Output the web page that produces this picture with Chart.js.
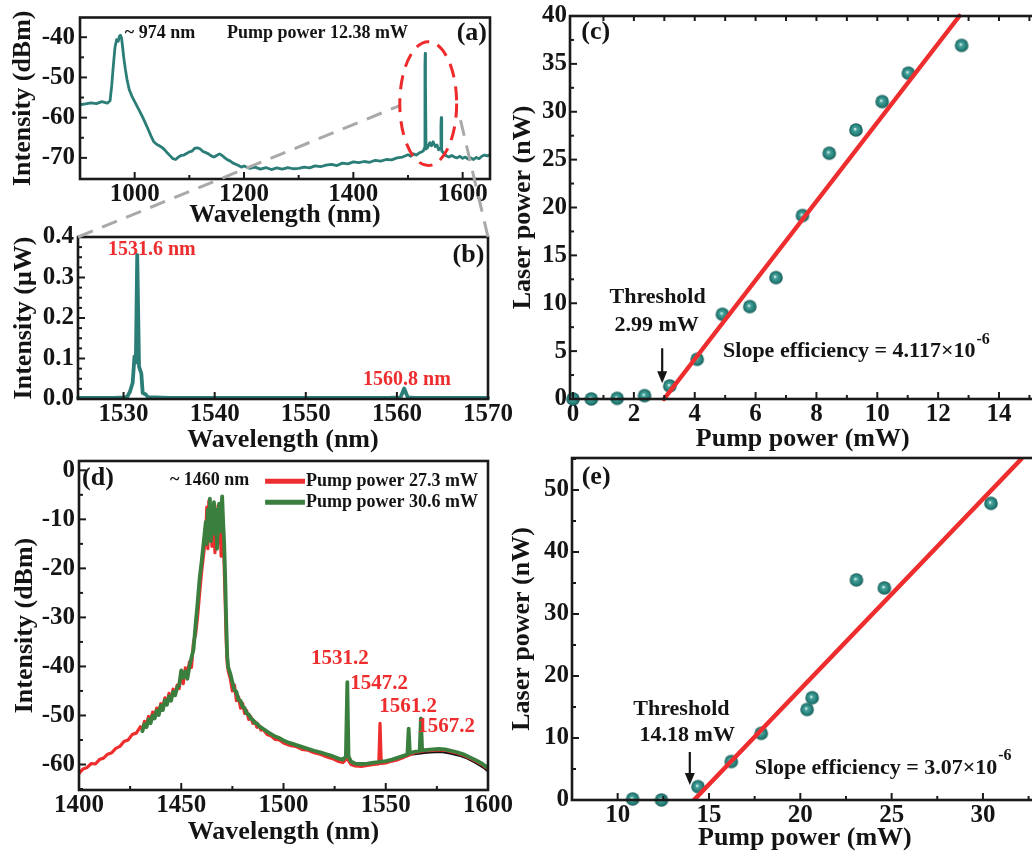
<!DOCTYPE html>
<html><head><meta charset="utf-8">
<script src="https://cdn.jsdelivr.net/npm/chart.js@4.4.1/dist/chart.umd.min.js"></script>
<style>
html,body{margin:0;padding:0;background:#fff;overflow:hidden;width:1032px;height:857px;}
canvas{position:absolute;left:0;top:0;}
</style></head><body>
<canvas id="ca" width="1100" height="857"></canvas>
<canvas id="cb" width="1100" height="857"></canvas>
<canvas id="cc" width="1100" height="857"></canvas>
<canvas id="cd" width="1100" height="857"></canvas>
<canvas id="ce" width="1100" height="857"></canvas>
<canvas id="ov" width="1100" height="857"></canvas>
<script>
// ---------- DATA ----------
// (a) spectrum, pump 12.38 mW
const aWave = [900,910,920,930,940,950,955,958,961,964,967,970,972,974,976,978,980,983,986,990,995,1000,1005,1010,1015,1020,1025,1030,1035,1040,1045,1050,1055,1060,1065,1070,1075,1080,1085,1090,1095,1100,1105,1110,1115,1120,1125,1130,1135,1140,1145,1150,1155,1160,1165,1170,1175,1180,1185,1190,1195,1200,1210,1220,1230,1240,1250,1260,1270,1280,1290,1300,1310,1320,1330,1340,1350,1360,1370,1380,1390,1400,1410,1420,1430,1440,1450,1460,1470,1480,1490,1500,1505,1510,1515,1520,1525,1528,1530,1531,1531.5,1532,1533,1536,1540,1543,1546,1550,1553,1556,1559,1560.3,1560.8,1561.3,1562,1565,1570,1575,1580,1585,1590,1595,1600,1605,1610,1615,1620,1625,1630,1635,1640,1645,1650];
const aIntensity = [-56.8,-56.6,-56.3,-56.5,-56.0,-56.4,-55.8,-52,-47,-42.5,-40.6,-41,-39.8,-39.5,-40.2,-42.5,-45,-48,-50.5,-53,-54.7,-56,-57.3,-58.6,-60,-61.5,-63,-64.6,-66,-66.6,-67,-67.4,-68,-68.8,-69.5,-70.2,-70.4,-69.8,-69.4,-69.3,-68.9,-68.5,-68.3,-67.6,-67.5,-67.8,-68.4,-68.7,-69.0,-69.5,-69.8,-69.4,-69.0,-69.4,-70.0,-70.5,-70.8,-71.3,-71.6,-71.9,-72.3,-72.0,-72.6,-72.3,-72.8,-72.4,-72.9,-72.5,-72.8,-72.4,-72.7,-72.6,-72.3,-72.5,-72.0,-72.2,-71.8,-71.6,-71.9,-71.3,-71.5,-71.0,-71.2,-70.9,-71.1,-70.6,-70.8,-70.4,-70.5,-70.0,-69.8,-69.2,-69.6,-69.0,-69.3,-68.8,-68.5,-68.3,-67.5,-47,-44,-52,-67.8,-67.4,-66.2,-67.0,-66.0,-67.2,-66.8,-68.0,-67.5,-62,-60,-63,-68.2,-68.8,-69.5,-69.8,-69.4,-69.8,-70.0,-69.6,-70.1,-69.8,-70.3,-70.0,-70.4,-69.9,-70.2,-69.6,-69.3,-69.5,-69.2];
const aXTicks = [1000,1200,1400,1600];
const aYTicks = [-70,-60,-50,-40];

// (b) zoomed spectrum
const bWave = [1525,1527,1529,1530,1530.4,1530.7,1531.0,1531.2,1531.35,1531.5,1531.7,1531.95,1532.1,1532.4,1532.7,1533.5,1535,1540,1545,1550,1555,1559,1560.4,1560.8,1561.2,1562,1565,1570];
const bPower = [0.003,0.003,0.003,0.004,0.005,0.018,0.04,0.105,0.09,0.356,0.08,0.063,0.015,0.012,0.004,0.004,0.003,0.003,0.003,0.003,0.003,0.003,0.004,0.026,0.004,0.003,0.003,0.003];
const bXTicks = [1530,1540,1550,1560,1570];
const bYTicks = [0,0.1,0.2,0.3,0.4];

// (c) laser power vs pump power
const cPump  = [0,0.6,1.45,2.35,3.18,4.08,4.91,5.81,6.67,7.54,8.42,9.3,10.16,11.02,12.77];
const cLaser = [0,0,0.07,0.35,1.36,4.15,8.85,9.65,12.68,19.16,25.67,28.1,31.06,34.03,36.93];
const cFitPump = [2.99,12.7];
const cFitLaser = [0,40];
const cXTicks = [0,2,4,6,8,10,12,14];
const cYTicks = [0,5,10,15,20,25,30,35,40];

// (d) spectra at two pump powers
const dWave = [1400,1402,1404,1406,1408,1410,1412,1414,1416,1418,1420,1422,1424,1426,1428,1430,
1431,1432,1433,1434,1435,1436,1437,1438,1439,1440,1441,1442,1443,1444,1445,1446,1447,1448,1449,1450,1451,1452,1453,1454,1455,1456,1457,1458,1459,1460,1461,1462,
1462.5,1463,1463.5,1464,1464.5,1465,1465.5,1466,1466.5,1467,1467.5,1468,1468.5,1469,1469.5,1470,1470.5,1471,1471.5,1472,1472.5,
1473,1474,1475,1476,1477,1478,1479,1480,1481,1482,1483,1484,1485,1486,1487,1488,1489,1490,
1492,1494,1496,1498,1500,
1503,1506,1509,1512,1515,1518,1521,1524,1527,1529,
1530.5,1531.2,1531.8,1533,1535,1538,1541,1544,1546.6,1547.2,1547.8,1550,1553,1556,1559,1560.6,1561.2,1561.8,1564,1566.6,1567.2,1567.8,
1570,1573,1576,1579,1582,1585,1588,1591,1594,1597,1600];
const dRed = [-61.8,-60.9,-60.6,-59.8,-59.9,-59.0,-58.7,-57.9,-57.6,-56.7,-56.3,-55.3,-55.0,-53.9,-53.6,-52.3,
-52.9,-51.2,-51.8,-50.2,-51.0,-49.3,-50.2,-48.5,-49.4,-47.6,-48.2,-46.4,-47.5,-45.5,-46.8,-44.6,-45.9,-43.8,-44.5,-41.2,-43.5,-40.3,-41.8,-39.1,-40.2,-35.0,-33.5,-29.8,-25.0,-20.5,-17.0,-13.0,
-7.5,-16.0,-6.2,-12.5,-9.0,-15.5,-7.8,-11.8,-16.8,-9.5,-13.5,-7.2,-14.8,-10.5,-17.5,-9.8,-12.2,-19.5,-27.0,-35.0,-39.5,
-41.0,-42.5,-45.0,-43.8,-47.0,-46.2,-48.5,-47.5,-49.6,-49.0,-50.8,-50.2,-51.6,-51.2,-52.4,-52.0,-53.0,-52.8,
-53.9,-54.2,-54.9,-55.0,-55.6,
-56.1,-56.3,-56.9,-57.1,-57.6,-57.9,-58.4,-58.8,-59.4,-59.6,
-59.0,-57.5,-59.2,-60.0,-60.3,-60.4,-60.2,-60.0,-59.9,-51.6,-59.8,-59.7,-59.3,-59.0,-58.5,-58.2,-58.1,-58.0,-57.6,-57.4,-57.3,-57.3,
-57.2,-57.1,-57.0,-57.1,-57.4,-57.7,-58.1,-58.7,-59.3,-60.0,-60.9];
const dGreen = [null,null,null,null,null,null,null,null,null,null,null,null,null,null,null,null,
-53.2,-51.8,-52.4,-50.8,-51.6,-50.0,-50.6,-49.0,-49.9,-48.0,-48.9,-46.9,-47.8,-46.1,-47.0,-45.2,-45.9,-44.3,-43.8,-40.8,-42.3,-41.0,-42.5,-40.0,-38.2,-36.5,-31.5,-27.0,-22.0,-18.5,-14.5,-10.5,
-15.0,-8.0,-13.8,-5.8,-14.5,-8.5,-11.0,-6.5,-13.0,-8.0,-16.0,-10.0,-6.8,-12.5,-8.8,-5.3,-10.5,-15.0,-22.0,-31.0,-38.0,
-40.2,-41.5,-43.2,-44.8,-45.2,-46.8,-47.0,-48.2,-48.5,-49.6,-49.8,-50.6,-50.9,-51.5,-51.6,-52.2,-52.4,-52.7,
-53.3,-53.8,-54.3,-54.6,-55.1,
-55.6,-56.0,-56.4,-56.8,-57.2,-57.5,-57.9,-58.3,-58.8,-59.0,
-58.4,-43.2,-58.3,-59.4,-59.8,-59.9,-59.8,-59.6,-59.5,-59.4,-59.4,-59.3,-59.0,-58.6,-58.2,-57.9,-52.7,-57.7,-57.4,-57.2,-50.6,-57.1,
-57.0,-56.9,-56.8,-56.9,-57.2,-57.5,-57.9,-58.5,-59.1,-59.8,-60.7];
const dBlackWave = [1562,1566,1570,1574,1578,1582,1586,1590,1594,1598,1600];
const dBlack = [-57.9,-57.7,-57.5,-57.4,-57.4,-57.7,-58.1,-58.7,-59.6,-60.6,-61.3];
const dXTicks = [1400,1450,1500,1550,1600];
const dYTicks = [-60,-50,-40,-30,-20,-10,0];

// (e) laser power vs pump power
const ePump  = [10.82,12.4,14.4,16.22,17.86,20.37,20.65,23.07,24.6,30.44];
const eLaser = [0.16,0,2.15,6.2,10.75,14.6,16.5,35.5,34.2,47.85];
const eFitPump = [14.18,32.1];
const eFitLaser = [0,55];
const eXTicks = [10,15,20,25,30];
const eYTicks = [0,10,20,30,40,50];

// ---------- STYLE / HELPERS ----------
const FONT = "'Liberation Serif','Times New Roman',serif";
const TEAL = '#2b7d78', RED = '#ee2e2e', GREEN = '#3b7f3f', TXT = '#141414';
const pts = (xs, ys) => xs.map((x, i) => ({x, y: ys[i]}));

function ball(r) {
  const s = Math.ceil(2 * r + 2), c = document.createElement('canvas');
  c.width = c.height = s;
  const g = c.getContext('2d');
  const grd = g.createRadialGradient(s/2 - 1, s/2 - 1, 0.4, s/2, s/2, r);
  grd.addColorStop(0, '#e6f5f3'); grd.addColorStop(0.22, '#46a39b');
  grd.addColorStop(0.7, '#25807a'); grd.addColorStop(1, '#1a5c58');
  g.fillStyle = grd; g.beginPath(); g.arc(s/2, s/2, r, 0, Math.PI * 2); g.fill();
  return c;
}
const BALL = ball(6.8);

function axis(o) {
  return {
    type: 'linear', min: o.min, max: o.max,
    afterBuildTicks: s => { s.ticks = o.ticks.map(v => ({value: v})); },
    afterFit: s => { if (s.isHorizontal()) s.height = o.size; else s.width = o.size; },
    grid: {display: false, drawTicks: false},
    border: {display: false},
    ticks: {font: {family: FONT, size: 25, weight: 'bold', lineHeight: 1}, color: TXT, padding: o.pad,
            autoSkip: false, maxRotation: 0, minRotation: 0, callback: o.fmt || (v => String(v))},
    title: {display: true, text: o.title, font: {family: FONT, size: 26, weight: 'bold', lineHeight: 1}, color: TXT, padding: 0}
  };
}

function framePlugin(f) {
  return {id: 'frame', afterDatasetsDraw(chart) {
    const {ctx, chartArea: a, scales: {x, y}} = chart;
    ctx.save();
    ctx.strokeStyle = '#1a1a1a'; ctx.lineWidth = 2; ctx.setLineDash([]);
    const t = (px, py, dx, dy) => { ctx.beginPath(); ctx.moveTo(px, py); ctx.lineTo(px + dx, py + dy); ctx.stroke(); };
    (f.xMajor || []).forEach(v => t(x.getPixelForValue(v), a.bottom, 0, -7));
    (f.xMinor || []).forEach(v => t(x.getPixelForValue(v), a.bottom, 0, -4));
    (f.yMajor || []).forEach(v => t(a.left, y.getPixelForValue(v), 7, 0));
    (f.yMinor || []).forEach(v => t(a.left, y.getPixelForValue(v), 4, 0));
    (f.top || []).forEach(v => t(x.getPixelForValue(v), a.top, 0, 5));
    ctx.lineWidth = 2.6;
    ctx.strokeRect(a.left, a.top, a.right - a.left, a.bottom - a.top);
    ctx.restore();
  }};
}

function annoPlugin(items) {
  return {id: 'anno', afterDraw(chart) {
    const {ctx, scales: {x, y}} = chart;
    items.forEach(it => {
      ctx.save();
      const px = x.getPixelForValue(it.x), py = y.getPixelForValue(it.y);
      if (it.type === 'text') {
        ctx.font = `bold ${it.size}px ${FONT}`; ctx.fillStyle = it.color || TXT;
        ctx.textAlign = it.align || 'left'; ctx.textBaseline = 'middle';
        ctx.fillText(it.text, px, py);
        if (it.sup) {
          const w = ctx.measureText(it.text).width;
          const x0 = it.align === 'center' ? px + w / 2 : px + w;
          ctx.font = `bold ${it.supSize}px ${FONT}`; ctx.textAlign = 'left';
          ctx.fillText(it.sup, x0 + 1, py - 12);
        }
      } else if (it.type === 'arrow') {
        const p2 = y.getPixelForValue(it.y2);
        ctx.strokeStyle = TXT; ctx.fillStyle = TXT; ctx.lineWidth = 2.2;
        ctx.beginPath(); ctx.moveTo(px, py); ctx.lineTo(px, p2 - 9); ctx.stroke();
        ctx.beginPath(); ctx.moveTo(px - 5, p2 - 12); ctx.lineTo(px + 5, p2 - 12); ctx.lineTo(px, p2); ctx.closePath(); ctx.fill();
      } else if (it.type === 'legend') {
        const px2 = x.getPixelForValue(it.x2);
        ctx.strokeStyle = it.color; ctx.lineWidth = 5;
        ctx.beginPath(); ctx.moveTo(px, py); ctx.lineTo(px2, py); ctx.stroke();
        ctx.font = `bold ${it.size}px ${FONT}`; ctx.fillStyle = TXT; ctx.textAlign = 'left'; ctx.textBaseline = 'middle';
        ctx.fillText(it.text, px2 + 1, py);
      }
      ctx.restore();
    });
  }};
}

function mk(id, datasets, xA, yA, pad, frame, anno) {
  return new Chart(document.getElementById(id), {
    type: 'scatter',
    data: {datasets},
    options: {
      responsive: false, animation: false, devicePixelRatio: 1, events: [],
      layout: {padding: pad},
      plugins: {legend: {display: false}, tooltip: {enabled: false}},
      scales: {x: axis(xA), y: axis(yA)}
    },
    plugins: [framePlugin(frame), annoPlugin(anno)]
  });
}
const lineDs = (data, color, w, clip) => ({data, showLine: true, borderColor: color, borderWidth: w, pointRadius: 0,
  borderJoinStyle: 'round', borderCapStyle: 'round', tension: 0, spanGaps: false, clip: clip});
const ballDs = data => ({data, showLine: false, pointStyle: BALL, pointRadius: 7, clip: false});

// ---------- (a) ----------
const chartA = mk('ca',
  [lineDs(pts(aWave, aIntensity), TEAL, 2.8, 0)],
  {min: 900, max: 1650, ticks: aXTicks, size: 49, pad: 3, title: 'Wavelength (nm)'},
  {min: -75.25, max: -35.1, ticks: aYTicks, size: 70, pad: 5, title: 'Intensity (dBm)'},
  {left: 10, top: 13, right: 610, bottom: 629},
  {xMajor: aXTicks, xMinor: [1100, 1300, 1500], yMajor: aYTicks, yMinor: [-45, -55, -65]},
  [{type: 'text', x: 982, y: -39, text: '~ 974 nm', size: 18},
   {type: 'text', x: 1169, y: -39, text: 'Pump power 12.38 mW', size: 18},
   {type: 'text', x: 1644.5, y: -39, text: '(a)', size: 26, align: 'right'}]);

// ---------- (b) ----------
const chartB = mk('cb',
  [lineDs(pts(bWave, bPower), TEAL, 3.8, false)],
  {min: 1525, max: 1570, ticks: bXTicks, size: 54, pad: 3, title: 'Wavelength (nm)'},
  {min: 0, max: 0.4, ticks: bYTicks, size: 67, pad: 4, title: 'Intensity (\u03bcW)', fmt: v => v.toFixed(1)},
  {left: 11, top: 237, right: 612, bottom: 404},
  {xMajor: bXTicks, xMinor: [], yMajor: bYTicks,
   yMinor: [0.025,0.05,0.075,0.125,0.15,0.175,0.225,0.25,0.275,0.325,0.35,0.375]},
  [{type: 'text', x: 1533.1, y: 0.368, text: '1531.6 nm', size: 20, color: RED, align: 'center'},
   {type: 'text', x: 1561.1, y: 0.047, text: '1560.8 nm', size: 20, color: RED, align: 'center'},
   {type: 'text', x: 1569.6, y: 0.3556, text: '(b)', size: 26, align: 'right'}]);

// ---------- (c) ----------
const chartC = mk('cc',
  [lineDs(pts(cFitPump, cFitLaser), RED, 4.5, false), ballDs(pts(cPump, cLaser))],
  {min: -0.1, max: 15.2, ticks: cXTicks, size: 53, pad: 3, title: 'Pump power (mW)'},
  {min: 0, max: 40, ticks: cYTicks, size: 60, pad: 3, title: 'Laser power (nW)'},
  {left: 510, top: 16, right: 64.5, bottom: 405},
  {xMajor: cXTicks, xMinor: [1,3,5,7,9,11,13,15], yMajor: cYTicks,
   yMinor: [2.5,7.5,12.5,17.5,22.5,27.5,32.5,37.5], top: [1,2,3,4,5,6,7,8,9,10,11,12,13,14,15]},
  [{type: 'text', x: 0.27, y: 38.28, text: '(c)', size: 26},
   {type: 'text', x: 2.78, y: 10.65, text: 'Threshold', size: 22, align: 'center'},
   {type: 'text', x: 2.75, y: 7.73, text: '2.99 mW', size: 22, align: 'center'},
   {type: 'arrow', x: 2.93, y: 5.3, y2: 1.65},
   {type: 'text', x: 4.93, y: 4.94, text: 'Slope efficiency = 4.117\u00d710', size: 22, sup: '-6', supSize: 16}]);

// ---------- (d) ----------
const chartD = mk('cd',
  [lineDs(pts(dWave, dGreen), GREEN, 3.8, 0),
   lineDs(pts(dWave, dRed), RED, 3.2, 0),
   lineDs(pts(dBlackWave, dBlack), '#111111', 3, 0)],
  {min: 1400, max: 1600, ticks: dXTicks, size: 55, pad: 3, title: 'Wavelength (nm)'},
  {min: -65.2, max: 1.9, ticks: dYTicks, size: 67, pad: 4, title: 'Intensity (dBm)'},
  {left: 12, top: 461, right: 612, bottom: 12},
  {xMajor: dXTicks, xMinor: [1425, 1475, 1525, 1575], yMajor: dYTicks, yMinor: [-5,-15,-25,-35,-45,-55,-65]},
  [{type: 'text', x: 1401.5, y: -1.63, text: '(d)', size: 26},
   {type: 'text', x: 1444.5, y: -2.04, text: '~ 1460 nm', size: 18},
   {type: 'legend', x: 1491, x2: 1510.5, y: -2.25, color: RED, text: 'Pump power 27.3 mW', size: 18},
   {type: 'legend', x: 1491, x2: 1510.5, y: -6.53, color: GREEN, text: 'Pump power 30.6 mW', size: 18},
   {type: 'text', x: 1527.6, y: -38.4, text: '1531.2', size: 21, color: RED, align: 'center'},
   {type: 'text', x: 1546.7, y: -43.5, text: '1547.2', size: 21, color: RED, align: 'center'},
   {type: 'text', x: 1560.9, y: -48.2, text: '1561.2', size: 21, color: RED, align: 'center'},
   {type: 'text', x: 1579.5, y: -52.2, text: '1567.2', size: 21, color: RED, align: 'center'}]);

// ---------- (e) ----------
const chartE = mk('ce',
  [lineDs(pts(eFitPump, eFitLaser), RED, 4.5, 0), ballDs(pts(ePump, eLaser))],
  {min: 7.5, max: 33, ticks: eXTicks, size: 51, pad: 3, title: 'Pump power (mW)'},
  {min: 0, max: 55.16, ticks: eYTicks, size: 63, pad: 3, title: 'Laser power (nW)'},
  {left: 509, top: 458, right: 62.25, bottom: 6},
  {xMajor: eXTicks, xMinor: [12.5, 17.5, 22.5, 27.5, 32.5], yMajor: eYTicks, yMinor: [5,15,25,35,45,55]},
  [{type: 'text', x: 8.03, y: 52.1, text: '(e)', size: 26},
   {type: 'text', x: 13.49, y: 14.68, text: 'Threshold', size: 22, align: 'center'},
   {type: 'text', x: 13.81, y: 10.48, text: '14.18 mW', size: 22, align: 'center'},
   {type: 'arrow', x: 13.95, y: 7.74, y2: 2.42},
   {type: 'text', x: 17.5, y: 5.16, text: 'Slope efficiency = 3.07\u00d710', size: 22, sup: '-6', supSize: 16}]);

// ---------- overlay: zoom guide lines and ellipse ----------
(function () {
  const g = document.getElementById('ov').getContext('2d');
  const ax = chartA.scales.x, ay = chartA.scales.y, bA = chartB.chartArea;
  g.save();
  g.strokeStyle = '#a9a9a9'; g.lineWidth = 3; g.setLineDash([16, 10]);
  g.beginPath(); g.moveTo(bA.left, bA.top); g.lineTo(ax.getPixelForValue(1485), ay.getPixelForValue(-57)); g.stroke();
  g.beginPath(); g.moveTo(bA.right, bA.top); g.lineTo(ax.getPixelForValue(1595), ay.getPixelForValue(-60)); g.stroke();
  const cx = ax.getPixelForValue(1537), cy = ay.getPixelForValue(-56.5);
  const rx = Math.abs(ax.getPixelForValue(1537 + 52) - cx), ry = Math.abs(ay.getPixelForValue(-56.5 + 15.4) - cy);
  g.strokeStyle = '#ee2a2a'; g.lineWidth = 3; g.setLineDash([14, 9]);
  g.beginPath(); g.ellipse(cx, cy, rx, ry, 0, 0, Math.PI * 2); g.stroke();
  g.restore();
})();
</script>
</body></html>
